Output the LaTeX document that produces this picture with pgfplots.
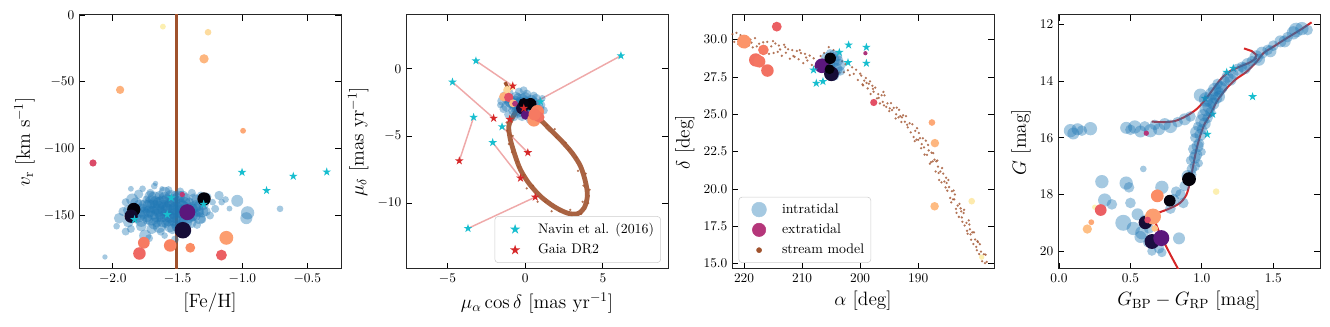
\documentclass[border=0pt]{standalone}
\usepackage{pgfplots}
\pgfplotsset{compat=1.18}

\definecolor{tabblue}{HTML}{1F77B4}
\definecolor{tabcyan}{HTML}{17BECF}
\definecolor{tabred}{HTML}{D62728}
\definecolor{sienna}{HTML}{A0522D}
\definecolor{extleg}{HTML}{B5367A}

% filled five-pointed star, like matplotlib's '*'
\pgfdeclareplotmark{fstar}{%
  \pgfpathmoveto{\pgfpointpolar{90}{\pgfplotmarksize}}%
  \pgfpathlineto{\pgfpointpolar{126}{0.382\pgfplotmarksize}}%
  \pgfpathlineto{\pgfpointpolar{162}{\pgfplotmarksize}}%
  \pgfpathlineto{\pgfpointpolar{198}{0.382\pgfplotmarksize}}%
  \pgfpathlineto{\pgfpointpolar{234}{\pgfplotmarksize}}%
  \pgfpathlineto{\pgfpointpolar{270}{0.382\pgfplotmarksize}}%
  \pgfpathlineto{\pgfpointpolar{306}{\pgfplotmarksize}}%
  \pgfpathlineto{\pgfpointpolar{342}{0.382\pgfplotmarksize}}%
  \pgfpathlineto{\pgfpointpolar{18}{\pgfplotmarksize}}%
  \pgfpathlineto{\pgfpointpolar{54}{0.382\pgfplotmarksize}}%
  \pgfpathclose\pgfusepathqfill}

\pgfplotsset{
  colormap={magma}{rgb255=(0,0,4) rgb255=(28,16,68) rgb255=(79,18,123)
    rgb255=(129,37,129) rgb255=(181,54,122) rgb255=(229,80,100)
    rgb255=(251,135,97) rgb255=(254,194,135) rgb255=(252,253,191)},
  panel/.style={scale only axis, width=196.5pt, height=190.5pt, anchor=south west,
    tick align=inside, major tick length=4.5pt,
    tick style={black, line width=0.6pt},
    axis line style={line width=0.75pt, black!85},
    tick label style={font=\fontsize{10.4}{12}\selectfont},
    label style={font=\fontsize{14.5}{17}\selectfont},
    point meta min=0, point meta max=1, colormap name=magma,
    legend style={font=\fontsize{10.4}{12}\selectfont, draw=black!20,
      rounded corners=2.5pt, row sep=2.5pt, inner xsep=3pt, inner ysep=3pt},
    legend cell align=left,
    legend image code/.code={\path (0pt,0pt) (27pt,0pt);
      \draw[##1] plot coordinates {(12pt,0pt)};},
  },
  intra/.style={scatter, only marks, mark=*, forget plot, point meta=\thisrow{s},
    scatter/use mapped color={draw opacity=0, fill=tabblue, fill opacity=0.4},
    visualization depends on={\thisrow{s}\as\ms},
    scatter/@pre marker code/.append style={/tikz/mark size=\ms}},
  extra/.style={scatter, only marks, mark=*, forget plot, point meta=\thisrow{c},
    scatter/use mapped color={draw opacity=0, fill=mapped color},
    visualization depends on={\thisrow{s}\as\ms},
    scatter/@pre marker code/.append style={/tikz/mark size=\ms}},
  navin/.style={only marks, mark=fstar, mark size=3.4pt, tabcyan, forget plot},
  gaia/.style={only marks, mark=fstar, mark size=3.4pt, tabred, forget plot},
  pair/.style={tabred, opacity=0.4, line width=1.1pt, forget plot},
  model/.style={only marks, mark=*, mark size=0.95pt, sienna, mark options={draw opacity=0, fill opacity=0.8}, forget plot},
}

\begin{document}
\begin{tikzpicture}
\path[use as bounding box] (0pt,0pt) rectangle (997.5pt,245.25pt);

% ---------------- panel 1: v_r vs [Fe/H]
\begin{axis}[panel, at={(59.25pt,43.5pt)},
  xmin=-2.26, xmax=-0.24, ymin=-190, ymax=0,
  xtick={-2,-1.5,-1,-0.5}, ytick={0,-50,-100,-150},
  xticklabel style={/pgf/number format/.cd, fixed, fixed zerofill, precision=1},
  xlabel={[Fe/H]}, ylabel={$v_{\mathrm{r}}$ [km s$^{-1}$]}]
\addplot[sienna, line width=2.3pt, forget plot] coordinates {(-1.505,-200) (-1.505,10)};
\addplot[intra] table {
x y s
-1.95 -152 4
-1.92 -147 3.5
-1.90 -140 3
-1.88 -155 4
-1.86 -160 3
-1.85 -138 4.5
-1.83 -145 3
-1.82 -152 4
-1.80 -134 3.5
-1.79 -143 5
-1.78 -158 4
-1.77 -130 2.5
-1.76 -148 4.5
-1.75 -165 4.5
-1.74 -138 3
-1.73 -153 4
-1.72 -143 5
-1.71 -133 3
-1.70 -160 4
-1.69 -148 5
-1.68 -128 2.5
-1.67 -140 4.5
-1.66 -155 4
-1.65 -146 5
-1.64 -135 3.5
-1.63 -162 3
-1.62 -150 5
-1.61 -142 4
-1.60 -137 4.5
-1.59 -156 3.5
-1.58 -146 5
-1.57 -131 3
-1.56 -151 4.5
-1.55 -141 5
-1.54 -160 4
-1.53 -145 4.5
-1.52 -135 3.5
-1.51 -155 5
-1.50 -148 4
-1.49 -140 4.5
-1.48 -132 3
-1.47 -158 4
-1.46 -144 5
-1.45 -151 4
-1.44 -137 4
-1.43 -162 3.5
-1.42 -147 5
-1.41 -140 3.5
-1.40 -155 4.5
-1.39 -133 3
-1.38 -145 4
-1.37 -150 4.5
-1.36 -138 3.5
-1.35 -157 3
-1.34 -143 4
-1.33 -148 3.5
-1.32 -135 3
-1.31 -153 3
-1.30 -142 4
-1.28 -147 3.5
-1.27 -136 3
-1.25 -150 3
-1.23 -140 2.5
-1.21 -145 3
-1.18 -135 3.5
-1.16 -140 2.5
-1.13 -138 2.5
-1.10 -144.8 2.2
-1.04 -139 4.5
-0.96 -148 5
-0.97 -152 4.5
-0.71 -145 2.5
-2.06 -181 2
-1.86 -130 2.2
-1.62 -130 2
-1.72 -167 3
-1.52 -168 3
-1.60 -165 2.5
-1.90 -162 3
-1.97 -158 2.5
-1.67 -126 2
-1.80 -150 5
-1.75 -143 5
-1.70 -152 5.5
-1.68 -137 5
-1.64 -158 5
-1.60 -145 5.5
-1.57 -153 5
-1.55 -136 5
-1.52 -150 5.5
-1.48 -143 5.5
-1.44 -155 5
-1.40 -145 5
-1.37 -138 4.5
-1.33 -152 4.5
-1.62 -140 5
-1.66 -150 5
-1.72 -147 4.5
-1.58 -139 5
-1.50 -158 4.5
-1.46 -136 4.5
-1.42 -151 5
-1.78 -154 4.5
-1.84 -149 4.5
-1.88 -146 4
-1.35 -146 5
-1.54 -147 5.5
-1.61 -154 5
-1.69 -143 5
-1.74 -150 5
-1.70 -140 5
-1.66 -144 5.5
-1.63 -148 5
-1.59 -150 5
-1.56 -144 5.5
-1.53 -139 5
-1.51 -145 5.5
-1.49 -152 5
-1.47 -147 5
-1.45 -141 5
-1.43 -145 5
-1.39 -150 4.5
-1.36 -143 4.5
-1.31 -147 4.5
-1.82 -141 4.5
-1.78 -146 5
-1.68 -156 4.5
-1.56 -158 4.5
-1.53 -153 5
-1.49 -136 4.5
-1.60 -133 4.5
-1.71 -136 4.5
-1.64 -141 5
};
\addplot[extra] table {
x y s c
-1.613 -8.7 2.2 0.97
-1.265 -12.9 2.5 0.93
-1.296 -32.8 3.5 0.85
-1.943 -56 3.1 0.84
-0.995 -86.6 2.2 0.82
-2.152 -110.7 2.7 0.60
-1.464 -134.3 2.0 0.52
-1.838 -145.5 5.0 0.01
-1.858 -150.5 5.0 0.08
-1.296 -137.6 5.0 0.01
-1.425 -147.5 6.0 0.28
-1.459 -161 6.2 0.10
-1.76 -170.4 4.4 0.72
-1.794 -178.4 4.7 0.68
-1.557 -172.4 4.7 0.74
-1.402 -174.1 3.7 0.76
-1.124 -166.7 5.2 0.80
-1.162 -179.6 4.1 0.66
};
\addplot[navin] coordinates {(-1.003,-117.7) (-0.814,-131.3) (-0.608,-120.6) (-0.35,-117.4)
  (-1.549,-136.8) (-1.58,-149.3) (-1.299,-141.5) (-1.832,-153)};
\end{axis}

% ---------------- panel 2: proper motions
\begin{axis}[panel, at={(304.5pt,43.5pt)},
  xmin=-7.67, xmax=9.19, ymin=-14.9, ymax=4,
  xtick={-5,0,5}, ytick={0,-5,-10},
  xlabel={$\mu_{\alpha}\cos\delta$ [mas yr$^{-1}$]}, ylabel={$\mu_{\delta}$ [mas yr$^{-1}$]},
  legend style={at={(0.973,0.024)}, anchor=south east}]
\addlegendimage{only marks, mark=fstar, mark size=4pt, tabcyan}
\addlegendentry{Navin et al. (2016)}
\addlegendimage{only marks, mark=fstar, mark size=4pt, tabred}
\addlegendentry{Gaia DR2}
\addplot[pair] coordinates {(-3.17,0.59) (-0.80,-1.28)};
\addplot[pair] coordinates {(-4.68,-0.99) (-2.03,-3.68)};
\addplot[pair] coordinates {(-3.32,-3.61) (-4.24,-6.85)};
\addplot[pair] coordinates {(-2.09,-5.49) (-0.30,-8.14)};
\addplot[pair] coordinates {(-1.49,-4.31) (0.17,-6.24)};
\addplot[pair] coordinates {(-3.68,-11.88) (0.65,-9.55)};
\addplot[pair] coordinates {(6.16,0.97) (-0.09,-2.94)};
\addplot[pair] coordinates {(0.99,-2.45) (-1.0,-3.76)};
\addplot[sienna, line width=3.6pt, smooth, opacity=0.9, forget plot] coordinates {
(-0.5,-3.0) (-0.9,-3.8) (-1.06,-4.31) (-0.95,-5.29) (-0.63,-6.53) (-0.30,-7.52)
(0.23,-8.51) (0.99,-9.50) (1.85,-10.25) (2.71,-10.74) (3.36,-10.79) (3.79,-10.37)
(4.0,-9.50) (3.90,-8.51) (3.57,-7.28) (3.03,-6.28) (2.28,-5.29) (1.63,-4.55)
(1.20,-4.05) (0.77,-3.56) (0.3,-3.0)};
\addplot[sienna, line width=2.5pt, forget plot] coordinates {(-1.3,-1.0) (-1.0,-1.7)};
\addplot[model] coordinates {(-1.15,-4.6) (-0.8,-5.0) (-1.05,-5.6) (-0.5,-6.9) (-0.85,-6.2)
(-0.1,-7.9) (-0.45,-7.3) (0.5,-8.7) (0.1,-8.9) (1.3,-9.9) (0.8,-9.9) (2.2,-10.6)
(1.7,-10.6) (3.0,-11.0) (2.9,-10.5) (3.6,-10.8) (4.05,-10.0) (3.7,-9.9) (4.15,-9.0)
(3.75,-8.7) (3.9,-7.8) (3.4,-7.6) (3.3,-6.6) (2.8,-6.0) (2.6,-5.5) (2.0,-5.1)
(1.4,-4.2) (1.9,-4.5) (1.0,-3.9) (-1.2,-4.0)};
\addplot[intra] table {
x y s
-1.5 -2.4 3.5
-1.3 -2.0 3.5
-1.2 -2.8 4
-1.0 -1.8 3
-0.9 -2.5 4.5
-0.8 -3.1 3.5
-0.6 -2.1 4
-0.5 -2.7 5
-0.4 -1.7 3
-0.3 -3.2 4
-0.2 -2.3 4.5
0.0 -2.8 5
0.1 -1.9 3.5
0.2 -3.3 4
0.4 -2.4 4.5
0.5 -2.9 4
0.7 -2.2 3.5
0.8 -3.4 4
1.0 -2.7 3.5
1.2 -3.1 3
-1.1 -3.4 3
-0.7 -3.6 3
0.3 -3.8 3
-0.1 -1.6 3
-1.4 -3.0 3
-0.45 -2.2 4
0.05 -2.5 4.5
-0.65 -2.9 4
0.55 -2.0 3
1.1 -2.2 2.5
-1.6 -2.7 2.5
0.6 -3.7 3
-0.7 -2.5 5
-0.3 -2.6 5
0.2 -2.7 5
-1.0 -2.4 4.5
0.6 -2.6 4.5
-0.5 -3.2 4.5
0.0 -2.2 4.5
-1.2 -2.2 4
0.9 -3.0 4
-0.2 -3.5 4
};
\addplot[extra] table {
x y s c
-0.84 -1.34 2.5 0.95
-1.16 -1.58 3.0 0.92
-1.38 -2.08 3.5 0.84
-1.06 -2.13 3.5 0.62
-0.78 -2.57 3.0 0.86
-0.65 -2.60 2.2 0.48
-0.20 -2.94 4.5 0.10
0.02 -3.44 3.5 0.28
0.34 -2.62 4.5 0.01
-0.09 -2.57 4.0 0.02
0.78 -3.19 5.0 0.74
0.56 -3.81 5.0 0.78
0.90 -3.60 4.0 0.70
0.60 -3.40 4.5 0.72
};
\addplot[navin] coordinates {(-3.17,0.59) (-4.68,-0.99) (-3.32,-3.61) (-2.09,-5.49)
  (-1.49,-4.31) (-3.68,-11.88) (6.16,0.97) (0.99,-2.45)};
\addplot[gaia] coordinates {(-0.80,-1.28) (-2.03,-3.68) (-4.24,-6.85) (-0.30,-8.14)
  (0.17,-6.24) (0.65,-9.55) (-0.09,-2.94) (-1.0,-3.76)};
\end{axis}

% ---------------- panel 3: sky positions
\begin{axis}[panel, at={(549pt,43.5pt)}, x dir=reverse,
  xmin=176.95, xmax=222.07, ymin=14.64, ymax=31.65,
  xtick={190,200,210,220}, ytick={15,17.5,20,22.5,25,27.5,30},
  yticklabel style={/pgf/number format/.cd, fixed, fixed zerofill, precision=1},
  xlabel={$\alpha$ [deg]}, ylabel={$\delta$ [deg]},
  legend style={at={(0.025,0.024)}, anchor=south west}]
\addlegendimage{only marks, mark=*, mark size=5.5pt, draw=tabblue!40, fill=tabblue!40}
\addlegendentry{intratidal}
\addlegendimage{only marks, mark=*, mark size=5pt, draw=extleg, fill=extleg}
\addlegendentry{extratidal}
\addlegendimage{only marks, mark=*, mark size=1.9pt, draw=sienna, fill=sienna}
\addlegendentry{stream model}
\addplot[model] table {
a d
222.0 30.37
221.7 29.85
221.3 30.45
220.9 30.0
220.6 30.3
220.3 29.62
219.9 29.95
219.6 30.2
219.2 29.6
218.9 30.0
218.5 29.48
218.1 30.1
217.8 29.55
217.4 29.73
217.1 29.26
216.7 29.82
216.4 29.55
216.0 29.85
215.7 29.05
215.3 29.55
214.9 29.11
214.6 29.74
214.2 29.18
213.8 29.34
213.5 28.92
213.1 29.66
212.8 29.12
212.4 29.36
212.1 28.72
211.7 29.3
211.3 28.85
210.9 29.24
210.6 28.68
210.2 29.1
209.8 28.42
209.5 29.05
209.1 28.6
208.7 28.93
208.3 28.3
208.0 28.75
207.7 28.2
206.8 28.9
203.6 27.8
203.1 28.55
202.8 27.82
202.5 28.35
202.1 27.95
201.8 27.62
201.4 28.15
201.1 27.71
200.7 27.98
200.4 27.3
200.0 27.72
199.8 27.59
199.5 26.94
199.3 27.26
199.0 27.43
198.7 26.73
198.5 27.04
198.2 26.36
197.9 26.91
197.7 26.51
197.4 26.79
197.1 26.07
196.9 26.35
196.6 25.73
196.3 26.27
196.1 25.83
195.8 26.27
195.5 25.5
195.3 25.73
195.0 25.21
194.7 25.75
194.5 25.28
194.2 25.43
193.9 24.72
193.7 25.45
193.4 24.79
193.1 24.88
192.9 24.48
192.6 24.93
192.3 24.5
192.1 24.88
191.8 24.12
191.5 24.4
191.3 23.79
191.0 24.33
190.8 23.48
190.5 23.89
190.2 24.07
190.0 23.29
189.7 23.4
189.5 22.73
189.2 23.39
189.0 22.78
188.7 23.23
188.5 22.28
188.2 22.58
188.0 21.69
187.7 22.43
187.5 21.84
187.2 21.97
187.0 21.17
186.7 21.9
186.5 21.07
186.2 21.17
186.0 20.44
185.7 21.03
185.5 20.5
185.2 20.75
185.0 19.88
184.7 20.13
184.5 19.4
184.2 19.85
184.0 19.3
183.7 19.63
183.5 18.67
183.2 18.89
183.0 18.13
182.7 18.7
182.5 18.09
182.2 18.39
182.0 17.55
181.7 17.73
181.5 17.0
181.2 17.62
181.0 16.96
180.7 17.09
180.5 16.31
180.2 16.62
180.0 16.12
179.7 16.44
179.5 15.64
179.2 15.8
179.0 15.16
178.7 15.62
178.5 15.03
178.2 15.11
178.0 14.45
190.6 23.2
189.9 23.75
188.9 22.3
188.3 22.95
187.4 22.4
186.9 21.85
186.4 20.6
185.9 21.4
185.3 20.1
184.8 20.6
184.3 19.1
183.9 19.9
183.4 18.4
182.9 19.0
182.4 17.8
182.1 18.6
181.6 17.2
181.3 17.9
180.9 16.6
180.4 17.1
179.9 15.9
179.4 16.3
178.9 15.4
178.4 15.6
190.3 23.3
189.4 23.0
187.8 21.8
186.6 21.5
185.1 20.4
183.8 19.3
182.6 18.5
181.1 17.3
179.8 16.5
199.6 27.0
198.9 27.1
197.8 26.7
196.8 26.1
195.9 25.6
194.9 25.4
193.8 25.0
192.8 24.8
191.9 24.3
196.0 26.5
193.3 25.3
198.3 27.2
221.0 29.7
218.7 29.8
216.2 29.3
214.0 29.6
211.5 28.9
209.3 28.8
219.8 29.5
215.0 29.9
212.9 29.5
210.4 29.3
205.4 29.5
204.6 29.3
206.2 29.1
};
\addplot[intra] table {
x y s
205.5 28.3 5
204.8 28.6 5.5
204.2 28.0 5
205.0 27.8 4.5
204.0 28.9 4
203.6 28.3 4.5
205.8 28.8 4
204.5 27.6 4
203.4 27.9 3.5
204.6 29.0 3.5
205.2 29.1 3
203.8 28.6 4
};
\addplot[extra] table {
x y s c
220.0 29.87 5.2 0.78
214.36 30.87 3.7 0.66
217.99 28.64 5.0 0.70
217.35 28.53 4.5 0.71
216.66 29.31 4.0 0.72
215.97 27.93 4.7 0.70
199.1 29.09 1.6 0.48
197.66 25.79 2.7 0.62
187.64 24.45 2.5 0.82
187.13 23.07 3.2 0.85
187.18 18.84 3.2 0.86
180.79 19.18 2.5 0.96
179.07 15.43 2.0 0.97
206.58 28.25 5.5 0.28
204.95 27.71 5.5 0.10
205.15 28.75 4.3 0.01
205.26 28.02 3.7 0.01
};
\addplot[navin] coordinates {(201.99,29.64) (198.93,29.49) (203.59,29.15) (202.09,28.46)
  (198.93,28.42) (208.03,27.97) (207.56,27.08) (206.41,27.2)};
\end{axis}

% ---------------- panel 4: colour-magnitude diagram
\begin{axis}[panel, at={(793.5pt,43.5pt)}, y dir=reverse,
  xmin=-0.007, xmax=1.827, ymin=11.67, ymax=20.63,
  xtick={0,0.5,1,1.5}, ytick={12,14,16,18,20},
  xticklabel style={/pgf/number format/.cd, fixed, fixed zerofill, precision=1},
  xlabel={$G_{\mathrm{BP}}-G_{\mathrm{RP}}$ [mag]}, ylabel={$G$ [mag]}]
\addplot[navin] coordinates {(1.174,13.69) (1.22,13.55) (1.355,14.55) (1.022,14.61)
  (1.075,15.17) (1.038,15.88)};
\addplot[intra] table {
x y s
0.93 17.3 3.5
0.95 17.0 4
0.92 16.8 3.5
0.96 16.6 4.5
0.94 16.4 4
0.98 16.2 4
0.95 16.0 3.5
0.99 15.9 4.5
1.00 15.7 4
0.97 15.6 3.5
1.02 15.5 4.5
1.04 15.3 4
1.01 15.2 4.5
1.06 15.1 4
1.05 14.9 5
1.08 14.8 4.5
1.03 14.65 5.5
1.10 14.6 4.5
1.07 14.45 5
1.12 14.4 4
1.09 14.3 5
1.14 14.2 4.5
1.11 14.1 4
1.16 14.0 4
1.18 13.85 4.5
1.22 13.75 4
1.25 13.6 4.5
1.28 13.5 4
1.32 13.4 4.5
1.35 13.3 4
1.38 13.15 5
1.42 13.0 4.5
1.46 12.9 4
1.50 12.75 4
1.55 12.6 4.5
1.60 12.45 4
1.66 12.2 5.5
1.70 12.15 5
1.74 12.2 4
0.98 16.9 3
1.00 16.5 3
0.95 16.7 4.5
0.97 16.3 4.5
0.96 15.8 4.5
1.00 15.4 5
1.03 15.0 5
1.06 14.7 5
0.99 14.5 5
1.12 14.55 4.5
1.13 14.25 5
1.20 13.95 4.5
1.30 13.55 4.5
1.40 13.25 4.5
1.48 12.95 4.5
1.58 12.6 4.5
1.64 12.3 5
0.93 17.1 4
0.90 17.35 4.5
0.08 15.75 5
0.10 15.85 4.5
0.13 15.7 4.5
0.16 15.75 4
0.22 15.68 5
0.47 15.65 4.5
0.50 15.72 4
0.53 15.62 5
0.57 15.78 4.5
0.60 15.6 4
0.64 15.75 5
0.67 15.55 4
0.70 15.7 4.5
0.74 15.52 4.5
0.78 15.6 5
0.83 15.45 4
0.88 15.35 4.5
0.92 15.25 4
0.59 17.1 2.5
0.30 17.55 5
0.47 17.6 5
0.49 17.75 4
0.32 18.2 5
0.37 18.35 4
0.50 18.3 4
0.72 17.75 5
0.55 18.7 4.5
0.45 19.0 6
0.52 19.2 5
0.58 19.35 5
0.60 19.0 4.5
0.63 19.2 4
0.66 19.6 4
0.70 19.9 4
0.72 20.05 3.5
0.84 19.55 4.5
0.78 18.5 4
0.80 18.2 4.5
0.85 18.0 4
0.88 17.7 4
0.60 18.9 4
0.57 19.5 4.5
0.62 19.7 3.5
0.65 20.0 3.5
0.82 17.9 4
0.87 18.3 4
};
\addplot[tabred, line width=1.5pt, smooth, forget plot] coordinates {
(0.835,20.64) (0.774,20.07) (0.716,19.49) (0.681,19.07) (0.670,18.84) (0.693,18.66)
(0.763,18.52) (0.844,18.31) (0.891,18.02) (0.915,17.60) (0.938,17.02) (0.961,16.43)
(0.99,15.9) (1.02,15.5) (1.057,15.20) (1.103,14.73) (1.162,14.32) (1.232,13.96)
(1.313,13.67) (1.383,13.32) (1.43,13.02) (1.50,12.79) (1.593,12.49) (1.687,12.20)
(1.768,11.93)};
\addplot[tabred, line width=1.5pt, smooth, forget plot] coordinates {
(0.649,15.43) (0.730,15.45) (0.812,15.41) (0.893,15.23) (0.963,14.99) (1.022,14.67)
(1.080,14.28) (1.138,13.90) (1.197,13.65) (1.267,13.49) (1.337,13.34) (1.383,13.18)};
\addplot[tabred, line width=1.5pt, forget plot] coordinates {
(1.295,12.85) (1.348,12.94) (1.383,13.08) (1.37,13.22)};
\addplot[extra] table {
x y s c
0.91 17.46 5.2 0.01
0.775 18.22 4.4 0.02
0.688 18.05 4.8 0.76
1.10 17.9 2.5 0.97
0.25 18.45 2.0 0.98
0.292 18.55 4.4 0.66
0.226 18.98 2.2 0.82
0.198 19.22 3.5 0.87
0.604 18.99 5.0 0.10
0.658 18.78 6.0 0.80
0.62 18.9 2.5 0.60
0.67 19.2 2.5 0.88
0.651 19.66 5.6 0.12
0.716 19.54 6.0 0.28
0.611 15.84 2.0 0.50
};
\end{axis}
\end{tikzpicture}
\end{document}
